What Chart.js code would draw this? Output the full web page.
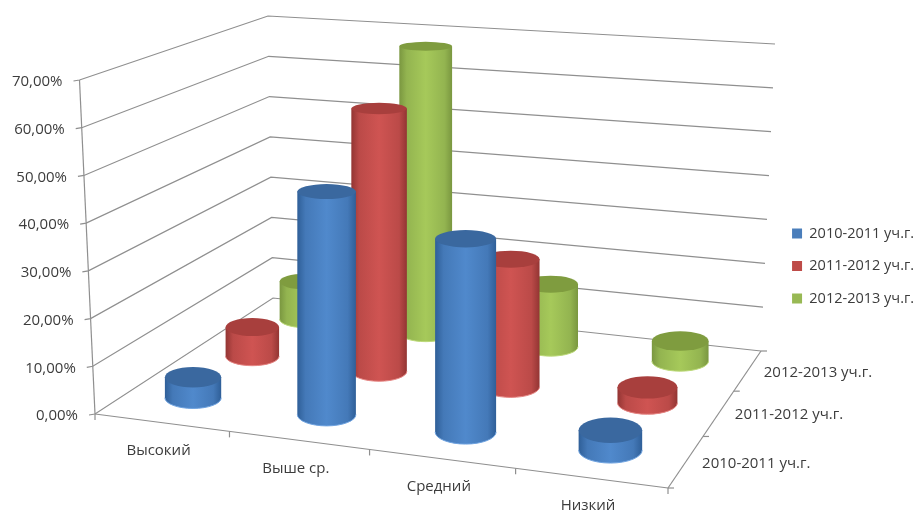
<!DOCTYPE html>
<html>
<head>
<meta charset="utf-8">
<style>
  html, body { margin: 0; background: #fff; }
  canvas { display: block; filter: blur(0.35px); }
</style>
<script src="https://cdn.jsdelivr.net/npm/chart.js@4"></script>
</head>
<body>
<canvas id="chart" width="918" height="510"></canvas>
<script>
const categories = ['Высокий', 'Выше ср.', 'Средний', 'Низкий'];
const years = ['2010-2011 уч.г.', '2011-2012 уч.г.', '2012-2013 уч.г.'];
const values2010 = [4.4, 46.7, 39.7, 4];
const values2011 = [6.6, 58.2, 27.7, 3.3];
const values2012 = [9, 67, 14.3, 4.5];
const yearValues = [values2010, values2011, values2012];

const barColors = ['#4a7ebb', '#be4b48', '#98b954'];
const sideEdge = ['#2f5f98', '#933533', '#7a9740'];
const sideSoft = ['#4479b8', '#bb4a48', '#93b450'];
const sideMid = ['#5089cc', '#cf5452', '#a6c95a'];
const topColor = ['#3a689f', '#a83f3d', '#7f9c3f'];
const rimColor = ['#6fa3e0', '#e58583', '#bcd97a'];

// corners of the 3d box, floor then top: front-left, front-right, back-right, back-left
const floorQuad = [[95, 414], [668, 488], [761, 351], [273, 298]];
const topQuad = [[79.5, 80], [672, 129], [775, 44], [268, 16]];
const floorLift = 2;   // cylinders sit a little above the drawn floor
const floorShift = -1;

function homography(q) {
  const [[x0, y0], [x1, y1], [x2, y2], [x3, y3]] = q;
  const dx1 = x1 - x2, dx2 = x3 - x2, sx = x0 - x1 + x2 - x3;
  const dy1 = y1 - y2, dy2 = y3 - y2, sy = y0 - y1 + y2 - y3;
  const den = dx1 * dy2 - dx2 * dy1;
  const g = (sx * dy2 - dx2 * sy) / den;
  const h = (dx1 * sy - sx * dy1) / den;
  const a = x1 - x0 + g * x1, b = x3 - x0 + h * x3;
  const d = y1 - y0 + g * y1, e = y3 - y0 + h * y3;
  return (u, w) => {
    const k = g * u + h * w + 1;
    return [(a * u + b * w + x0) / k, (d * u + e * w + y0) / k];
  };
}
const floorAt = homography(floorQuad);
const topAt = homography(topQuad);

// u along categories, v up the value axis, w into the depth, all 0..1
function project(u, v, w) {
  const f = floorAt(u, w), t = topAt(u, w);
  return [f[0] + (t[0] - f[0]) * v, f[1] + (t[1] - f[1]) * v];
}

// ellipses get flatter the higher they are on the page
function flatten(y) {
  return 0.14 + 0.0006 * y;
}

function line(ctx, a, b) {
  ctx.beginPath();
  ctx.moveTo(a[0], a[1]);
  ctx.lineTo(b[0], b[1]);
  ctx.stroke();
}

const box3d = {
  id: 'box3d',
  beforeDatasetsDraw(chart) {
    const ctx = chart.ctx, yScale = chart.scales.y;
    ctx.save();
    ctx.strokeStyle = '#8f8f8f';
    ctx.lineWidth = 1.2;
    ctx.fillStyle = '#3c3c3c';
    ctx.font = '15px "Open Sans"';

    // walls and value labels
    yScale.ticks.forEach(t => {
      const v = t.value / yScale.max;
      const a = project(0, v, 0), b = project(0, v, 1), c = project(1, v, 1);
      ctx.beginPath();
      ctx.moveTo(a[0] - 6, a[1] + 1);
      ctx.lineTo(a[0], a[1]);
      ctx.lineTo(b[0], b[1]);
      ctx.lineTo(c[0], c[1]);
      ctx.stroke();
      ctx.textAlign = 'right';
      ctx.textBaseline = 'middle';
      ctx.fillText(t.label, a[0] - 17, a[1] + 2);
    });
    line(ctx, project(0, 0, 0), project(0, 1, 0));
    line(ctx, project(0, 0, 0), project(1, 0, 0));
    line(ctx, project(1, 0, 0), project(1, 0, 1));

    // category ticks and labels along the front edge
    ctx.textAlign = 'center';
    categories.forEach((c, i) => {
      const p = project((i + 0.5) / categories.length, 0, 0);
      ctx.fillText(c, p[0] - 3, p[1] + 28);
    });
    for (let i = 0; i <= categories.length; i++) {
      const p = project(i / categories.length, 0, 0);
      line(ctx, p, [p[0], p[1] + 6]);
    }

    // depth ticks and labels along the right edge
    ctx.textAlign = 'left';
    years.forEach((y, i) => {
      const p = project(1, 0, (i + 0.5) / years.length);
      ctx.fillText(y, p[0] + 16, p[1] + 2);
    });
    for (let i = 0; i <= years.length; i++) {
      const p = project(1, 0, i / years.length);
      line(ctx, p, [p[0] + 6, p[1]]);
    }
    ctx.restore();
  },
  // bars are laid out by the scales, then redrawn as cylinders in the box
  beforeDatasetDraw(chart, args) {
    const ctx = chart.ctx, xs = chart.scales.x, ys = chart.scales.y;
    const i = args.index;
    const w = (i + 0.5) / years.length;
    args.meta.data.forEach(el => {
      const u = (el.x - xs.left) / xs.width;
      const v = (ys.bottom - el.y) / ys.height;
      const du = el.width / xs.width / 2;
      const b = project(u, 0, w), t = project(u, v, w);
      const r = (project(u + du, 0, w)[0] - project(u - du, 0, w)[0]) / 2;
      const cx = b[0] + floorShift, yb = b[1] - floorLift, yt = t[1] - floorLift;
      const ryb = r * flatten(yb), ryt = r * flatten(yt);
      const grad = ctx.createLinearGradient(cx - r, 0, cx + r, 0);
      grad.addColorStop(0, sideEdge[i]);
      grad.addColorStop(0.14, sideSoft[i]);
      grad.addColorStop(0.5, sideMid[i]);
      grad.addColorStop(0.86, sideSoft[i]);
      grad.addColorStop(1, sideEdge[i]);
      ctx.save();
      ctx.beginPath();
      ctx.moveTo(cx - r, yt);
      ctx.lineTo(cx - r, yb);
      ctx.ellipse(cx, yb, r, ryb, 0, Math.PI, 0, true);
      ctx.lineTo(cx + r, yt);
      ctx.closePath();
      ctx.fillStyle = grad;
      ctx.fill();
      ctx.beginPath();
      ctx.ellipse(cx, yb, r, ryb, 0, Math.PI, 0, true);
      ctx.strokeStyle = rimColor[i];
      ctx.lineWidth = 1;
      ctx.stroke();
      ctx.beginPath();
      ctx.ellipse(cx, yt, r, ryt, 0, 0, Math.PI * 2);
      ctx.fillStyle = topColor[i];
      ctx.fill();
      ctx.restore();
    });
    return false;
  }
};

const ctx = document.getElementById('chart').getContext('2d');
new Chart(ctx, {
  type: 'bar',
  plugins: [box3d],
  data: {
    labels: categories,
    datasets: years.map((y, i) => ({
      label: y,
      data: yearValues[i],
      backgroundColor: barColors[i],
      grouped: false,
      categoryPercentage: 1,
      barPercentage: 0.43
    }))
  },
  options: {
    responsive: false,
    animation: false,
    layout: { padding: { top: 22, right: -6 } },
    scales: {
      x: { display: false },
      y: {
        display: false,
        min: 0,
        max: 70,
        ticks: { stepSize: 10, callback: v => v.toFixed(2).replace('.', ',') + '%' }
      }
    },
    plugins: {
      tooltip: { enabled: false },
      legend: {
        position: 'right',
        labels: {
          boxWidth: 10,
          boxHeight: 10,
          padding: 18,
          color: '#3c3c3c',
          font: { family: 'Open Sans', size: 14.5 }
        }
      }
    }
  }
});
</script>
</body>
</html>
